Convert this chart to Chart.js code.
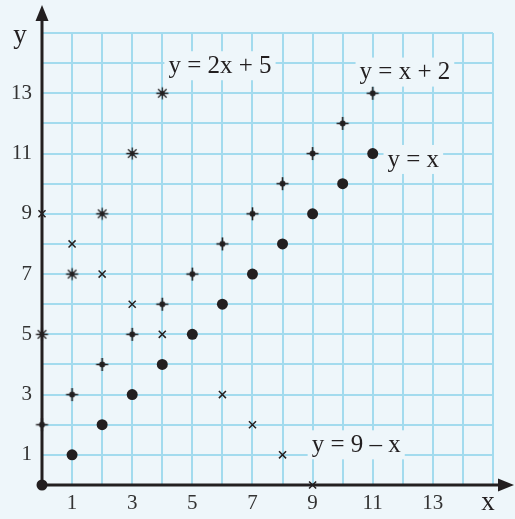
<!DOCTYPE html>
<html>
<head>
<meta charset="utf-8">
<script src="https://cdn.jsdelivr.net/npm/chart.js@4.4.0/dist/chart.umd.min.js"></script>
<style>
  html, body { margin: 0; padding: 0; background: #eef6fa; }
  #wrap { width: 515px; height: 519px; }
</style>
</head>
<body>
<div id="wrap"><canvas id="myChart" width="515" height="519"></canvas></div>
<script>
// data
const xIdentity = [0, 1, 2, 3, 4, 5, 6, 7, 8, 9, 10, 11];
const yIdentity = [0, 1, 2, 3, 4, 5, 6, 7, 8, 9, 10, 11];

const xPlus2 = [0, 1, 2, 3, 4, 5, 6, 7, 8, 9, 10, 11];
const yPlus2 = [2, 3, 4, 5, 6, 7, 8, 9, 10, 11, 12, 13];

const xTwice = [0, 1, 2, 3, 4];
const yTwice = [5, 7, 9, 11, 13];

const xNine = [0, 1, 2, 3, 4, 6, 7, 8, 9];
const yNine = [9, 8, 7, 6, 5, 3, 2, 1, 0];

const tickLabels = [1, 3, 5, 7, 9, 11, 13];

const lineLabels = [
  { text: "y = 2x + 5", x: 5.92, y: 13.93 },
  { text: "y = x + 2", x: 12.07, y: 13.72 },
  { text: "y = x", x: 12.35, y: 10.82 },
  { text: "y = 9 \u2013 x", x: 10.45, y: 1.35 }
];

const BG = "#eef6fa";
const GRID = "#a3dbee";
const INK = "#231f20";
const SERIF = "'Liberation Serif', 'DejaVu Serif', serif";

function toPoints(xs, ys) {
  return xs.map((x, i) => ({ x: x, y: ys[i] }));
}

// little marker canvases
function plusDot() {
  let c = document.createElement("canvas");
  c.width = 15; c.height = 15;
  let g = c.getContext("2d");
  g.strokeStyle = INK; g.fillStyle = INK; g.lineWidth = 1.6;
  g.beginPath();
  g.moveTo(7.5, 1); g.lineTo(7.5, 14);
  g.moveTo(1.5, 7.5); g.lineTo(13.5, 7.5);
  g.stroke();
  g.beginPath(); g.arc(7.5, 7.5, 3, 0, Math.PI * 2); g.fill();
  return c;
}

function asterisk() {
  let c = document.createElement("canvas");
  c.width = 15; c.height = 15;
  let g = c.getContext("2d");
  g.strokeStyle = INK; g.fillStyle = INK; g.lineWidth = 1.3;
  g.beginPath();
  for (let k = 0; k < 4; k++) {
    let a = k * Math.PI / 4;
    let dx = Math.sin(a) * 6, dy = Math.cos(a) * 6;
    g.moveTo(7.5 - dx, 7.5 - dy); g.lineTo(7.5 + dx, 7.5 + dy);
  }
  g.stroke();
  g.beginPath(); g.arc(7.5, 7.5, 2.4, 0, Math.PI * 2); g.fill();
  return c;
}

const paperPlugin = {
  id: "paper",
  beforeDraw(chart) {
    let ctx = chart.ctx;
    ctx.save();
    ctx.fillStyle = BG;
    ctx.fillRect(0, 0, chart.width, chart.height);
    ctx.restore();
  },
  beforeDatasetsDraw(chart) {
    let ctx = chart.ctx;
    let xs = chart.scales.x, ys = chart.scales.y;
    let ox = xs.getPixelForValue(0), oy = ys.getPixelForValue(0);

    // labels with a patch of paper behind them
    ctx.save();
    ctx.font = "25px " + SERIF;
    ctx.textAlign = "center";
    ctx.textBaseline = "middle";
    lineLabels.forEach((l) => {
      let px = xs.getPixelForValue(l.x), py = ys.getPixelForValue(l.y);
      let w = ctx.measureText(l.text).width;
      ctx.fillStyle = BG;
      ctx.fillRect(px - w / 2 - 4, py - 14, w + 8, 29);
      ctx.fillStyle = INK;
      ctx.fillText(l.text, px, py + 1);
    });
    ctx.restore();

    // axes with arrow heads
    ctx.save();
    ctx.strokeStyle = INK;
    ctx.fillStyle = INK;
    ctx.lineWidth = 3;
    ctx.beginPath();
    ctx.moveTo(ox, oy); ctx.lineTo(ox, 18);
    ctx.moveTo(ox, oy); ctx.lineTo(chart.width - 14, oy);
    ctx.stroke();
    ctx.beginPath();
    ctx.moveTo(ox, 5); ctx.lineTo(ox - 6.5, 21); ctx.lineTo(ox + 6.5, 21);
    ctx.closePath(); ctx.fill();
    ctx.beginPath();
    ctx.moveTo(chart.width - 1, oy); ctx.lineTo(chart.width - 17, oy - 6.5); ctx.lineTo(chart.width - 17, oy + 6.5);
    ctx.closePath(); ctx.fill();

    // axis names
    ctx.font = "27px " + SERIF;
    ctx.textAlign = "center";
    ctx.textBaseline = "middle";
    ctx.fillStyle = INK;
    ctx.fillText("y", 20, 36);
    ctx.fillText("x", 488, 503);
    ctx.restore();
  }
};

const tickFont = { family: SERIF, size: 21 };

new Chart("myChart", {
  type: "scatter",
  data: {
    datasets: [
      {
        label: "y = x",
        data: toPoints(xIdentity, yIdentity),
        pointStyle: "circle",
        pointRadius: 5.5,
        backgroundColor: INK,
        borderColor: INK,
        borderWidth: 0,
        clip: false
      },
      {
        label: "y = x + 2",
        data: toPoints(xPlus2, yPlus2),
        pointStyle: plusDot(),
        clip: false
      },
      {
        label: "y = 2x + 5",
        data: toPoints(xTwice, yTwice),
        pointStyle: asterisk(),
        clip: false
      },
      {
        label: "y = 9 - x",
        data: toPoints(xNine, yNine),
        pointStyle: "crossRot",
        pointRadius: 5,
        borderColor: INK,
        borderWidth: 1.5,
        clip: false
      }
    ]
  },
  options: {
    responsive: false,
    animation: false,
    layout: { padding: { top: 33, right: 22, left: 0, bottom: 0 } },
    plugins: { legend: { display: false }, tooltip: { enabled: false } },
    scales: {
      x: {
        type: "linear",
        min: 0, max: 15,
        afterFit: (s) => { s.height = 34; },
        border: { display: false },
        grid: { color: GRID, lineWidth: 2, drawTicks: false },
        ticks: {
          stepSize: 1,
          autoSkip: false,
          maxRotation: 0,
          padding: 6,
          color: "#333",
          font: tickFont,
          callback: (v) => tickLabels.includes(v) ? String(v) : ""
        }
      },
      y: {
        type: "linear",
        min: 0, max: 15,
        afterFit: (s) => { s.width = 42; },
        border: { display: false },
        grid: { color: GRID, lineWidth: 2, drawTicks: false },
        ticks: {
          stepSize: 1,
          autoSkip: false,
          padding: 10,
          color: "#333",
          font: tickFont,
          callback: (v) => tickLabels.includes(v) ? String(v) : ""
        }
      }
    }
  },
  plugins: [paperPlugin]
});
</script>
</body>
</html>
